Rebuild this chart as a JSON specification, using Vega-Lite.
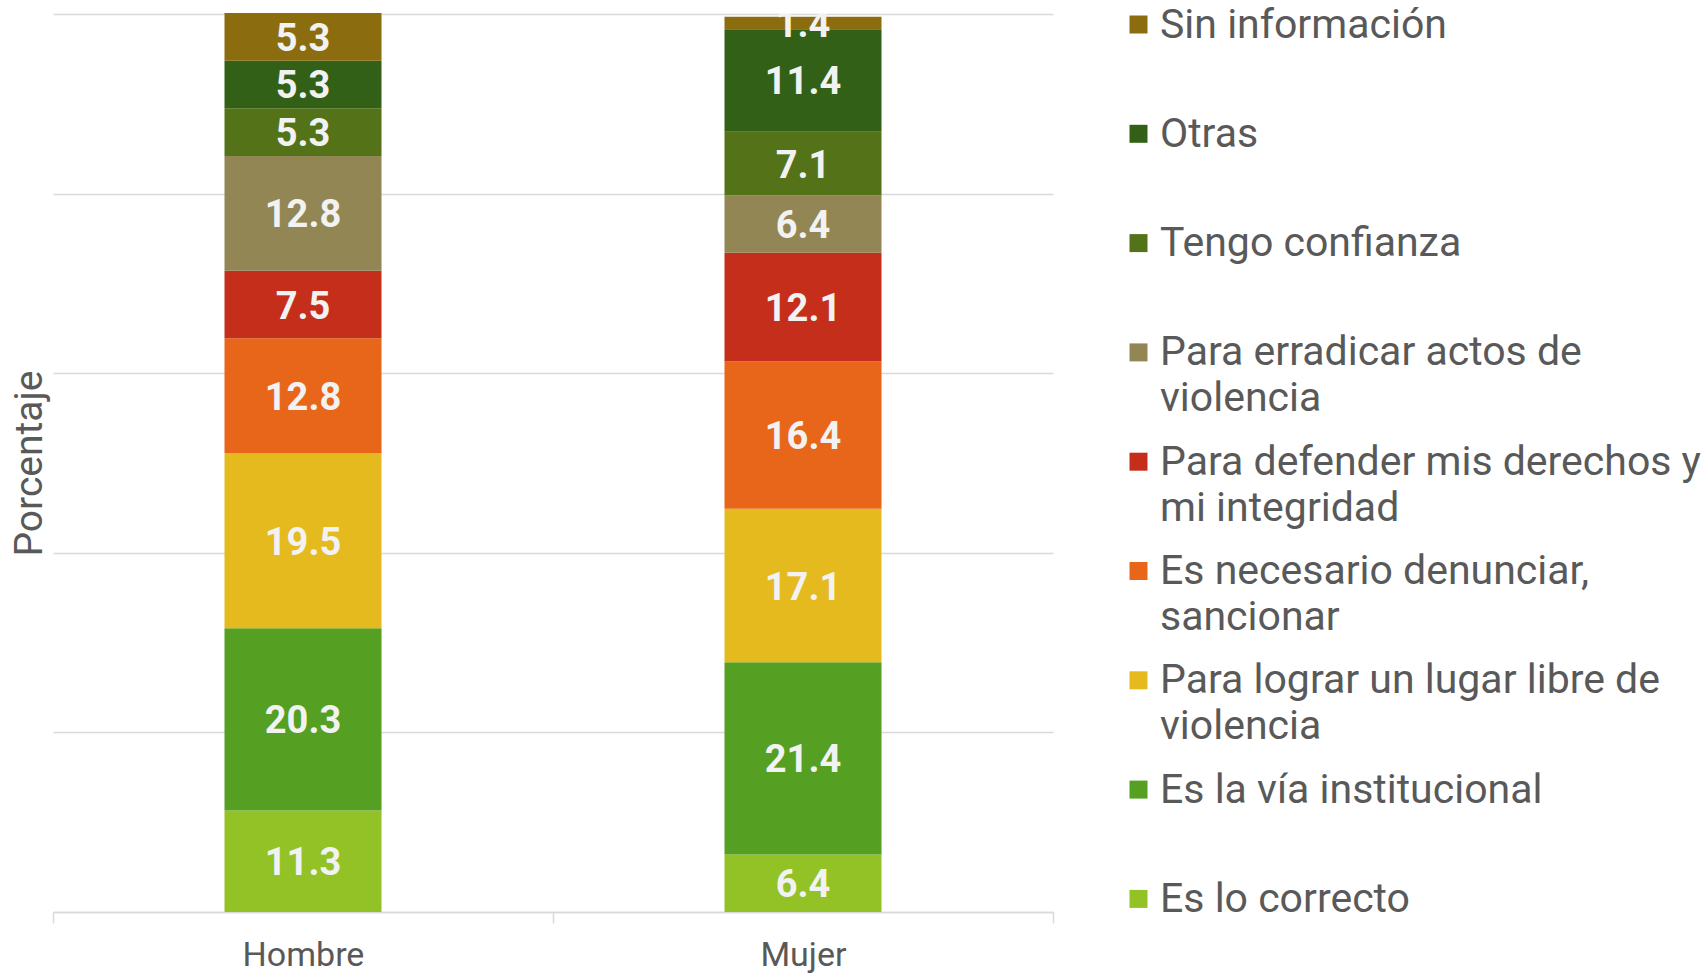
{
  "$schema": "https://vega.github.io/schema/vega-lite/v6.json",
  "width": 1000,
  "height": 898,
  "autosize": {"type": "none"},
  "padding": {"left": 53, "top": 14, "right": 653, "bottom": 61},
  "background": "white",
  "config": {"view": {"stroke": null}, "font": "Roboto"},
  "data": {
    "values": [
      {"sexo": "Hombre", "motivo": "Es lo correcto", "rank": 1, "valor": 11.3},
      {"sexo": "Hombre", "motivo": "Es la vía institucional", "rank": 2, "valor": 20.3},
      {"sexo": "Hombre", "motivo": "Para lograr un lugar libre de violencia", "rank": 3, "valor": 19.5},
      {"sexo": "Hombre", "motivo": "Es necesario denunciar, sancionar", "rank": 4, "valor": 12.8},
      {"sexo": "Hombre", "motivo": "Para defender mis derechos y mi integridad", "rank": 5, "valor": 7.5},
      {"sexo": "Hombre", "motivo": "Para erradicar actos de violencia", "rank": 6, "valor": 12.8},
      {"sexo": "Hombre", "motivo": "Tengo confianza", "rank": 7, "valor": 5.3},
      {"sexo": "Hombre", "motivo": "Otras", "rank": 8, "valor": 5.3},
      {"sexo": "Hombre", "motivo": "Sin información", "rank": 9, "valor": 5.3},
      {"sexo": "Mujer", "motivo": "Es lo correcto", "rank": 1, "valor": 6.4},
      {"sexo": "Mujer", "motivo": "Es la vía institucional", "rank": 2, "valor": 21.4},
      {"sexo": "Mujer", "motivo": "Para lograr un lugar libre de violencia", "rank": 3, "valor": 17.1},
      {"sexo": "Mujer", "motivo": "Es necesario denunciar, sancionar", "rank": 4, "valor": 16.4},
      {"sexo": "Mujer", "motivo": "Para defender mis derechos y mi integridad", "rank": 5, "valor": 12.1},
      {"sexo": "Mujer", "motivo": "Para erradicar actos de violencia", "rank": 6, "valor": 6.4},
      {"sexo": "Mujer", "motivo": "Tengo confianza", "rank": 7, "valor": 7.1},
      {"sexo": "Mujer", "motivo": "Otras", "rank": 8, "valor": 11.4},
      {"sexo": "Mujer", "motivo": "Sin información", "rank": 9, "valor": 1.4}
    ]
  },
  "transform": [
    {"stack": "valor", "groupby": ["sexo"], "sort": [{"field": "rank", "order": "ascending"}], "as": ["v0", "v1"]},
    {"calculate": "(datum.v0 + datum.v1) / 2", "as": "mid"}
  ],
  "encoding": {
    "x": {
      "field": "sexo",
      "type": "nominal",
      "scale": {"paddingInner": 0, "paddingOuter": 0},
      "axis": {
        "title": null,
        "labelAngle": 0,
        "labelFont": "Roboto",
        "labelFontSize": 34,
        "labelColor": "#595959",
        "labelPadding": 15,
        "tickBand": "extent",
        "tickSize": 11,
        "tickColor": "#d9d9d9",
        "tickWidth": 1.5,
        "domainColor": "#d9d9d9",
        "domainWidth": 1.5,
        "grid": false
      }
    }
  },
  "layer": [
    {
      "mark": {"type": "bar", "width": {"band": 0.314}},
      "encoding": {
        "y": {
          "field": "v0",
          "type": "quantitative",
          "scale": {"domain": [0, 100], "nice": false},
          "axis": {
            "values": [0, 20, 40, 60, 80, 100],
            "labels": false,
            "ticks": false,
            "domain": false,
            "grid": true,
            "gridColor": "#d9d9d9",
            "gridWidth": 1.5,
            "title": "Porcentaje",
            "titleFont": "Roboto",
            "titleFontSize": 39,
            "titleFontWeight": "normal",
            "titleColor": "#595959",
            "titlePadding": 4
          }
        },
        "y2": {"field": "v1"},
        "color": {
          "field": "motivo",
          "type": "nominal",
          "scale": {
            "domain": [
              "Sin información",
              "Otras",
              "Tengo confianza",
              "Para erradicar actos de violencia",
              "Para defender mis derechos y mi integridad",
              "Es necesario denunciar, sancionar",
              "Para lograr un lugar libre de violencia",
              "Es la vía institucional",
              "Es lo correcto"
            ],
            "range": ["#8B6D0F", "#316016", "#547319", "#918654", "#C42E1B", "#E8661A", "#E5BA1F", "#55A022", "#92C226"]
          },
          "legend": {
            "title": null,
            "orient": "none",
            "legendX": 1065,
            "legendY": -10,
            "padding": 0,
            "direction": "vertical",
            "symbolType": "square",
            "symbolSize": 324,
            "symbolStrokeWidth": 0,
            "labelFont": "Roboto",
            "labelFontSize": 41,
            "labelColor": "#595959",
            "labelOffset": 1,
            "labelLimit": 700,
            "labelBaseline": "alphabetic",
            "gridAlign": "all",
            "rowPadding": 21.3,
            "labelExpr": "datum.label == 'Para erradicar actos de violencia' ? ['Para erradicar actos de', 'violencia'] : datum.label == 'Para defender mis derechos y mi integridad' ? ['Para defender mis derechos y', 'mi integridad'] : datum.label == 'Es necesario denunciar, sancionar' ? ['Es necesario denunciar,', 'sancionar'] : datum.label == 'Para lograr un lugar libre de violencia' ? ['Para lograr un lugar libre de', 'violencia'] : datum.label",
            "encode": {
              "labels": {"update": {"dy": {"value": 13}, "lineHeight": {"value": 46}}}
            }
          }
        },
        "order": {"field": "rank", "type": "quantitative"}
      }
    },
    {
      "mark": {"type": "text", "font": "Roboto", "fontSize": 38, "fontWeight": "bold", "color": "#F2F2F2", "clip": true, "baseline": "middle", "dy": 3},
      "encoding": {
        "y": {"field": "mid", "type": "quantitative"},
        "text": {"field": "valor", "type": "quantitative", "format": ".1f"}
      }
    }
  ]
}
